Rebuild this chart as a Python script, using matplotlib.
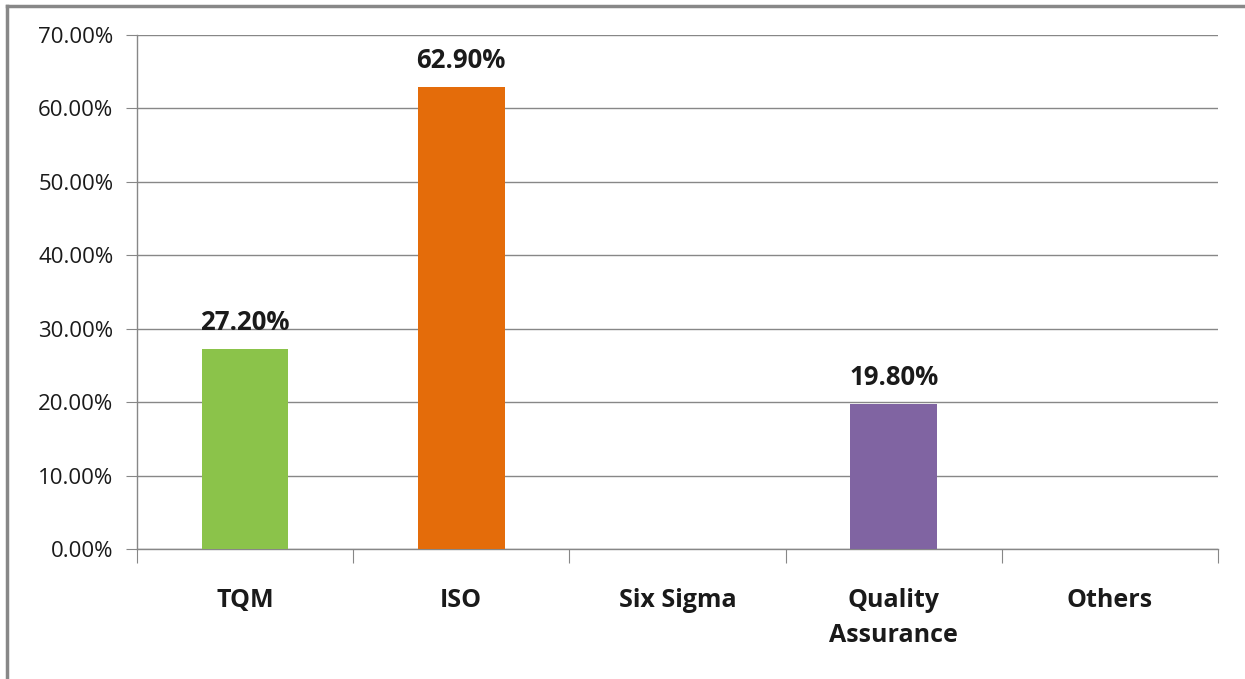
import matplotlib
matplotlib.use("Agg")
import matplotlib.pyplot as plt
from matplotlib.ticker import FuncFormatter, MultipleLocator
from matplotlib.lines import Line2D

categories = ["TQM", "ISO", "Six Sigma", "Quality\nAssurance", "Others"]
values = [27.2, 62.9, 0.0, 19.8, 0.0]
labels = ["27.20%", "62.90%", "", "19.80%", ""]
colors = ["#8BC34A", "#E46C0A", "#8064A2", "#8064A2", "#8064A2"]

plt.rcParams['font.family'] = ['Open Sans', 'DejaVu Sans']

fig = plt.figure(figsize=(12.45, 6.79), dpi=100)
ax = fig.add_axes([137/1245, 1-549/679, (1218-137)/1245, (549-35)/679])

x = list(range(len(categories)))
bars = ax.bar(x, values, width=0.40, color=colors, zorder=3)
for xi, v, lab in zip(x, values, labels):
    if lab:
        ax.text(xi, v + 3.6, lab, ha='center', va='center', fontsize=18.5, fontweight='bold', color='#1a1a1a')

ax.set_xlim(-0.5, len(categories) - 0.5)
ax.set_ylim(0, 70)
ax.yaxis.set_major_locator(MultipleLocator(10))
ax.yaxis.set_major_formatter(FuncFormatter(lambda v, p: f"{v:.2f}%"))
ax.grid(axis='y', color='#878787', linewidth=1.0, zorder=0)

gray = '#878787'
for s in ['top', 'right']:
    ax.spines[s].set_visible(False)
for s in ['left', 'bottom']:
    ax.spines[s].set_color(gray)
    ax.spines[s].set_linewidth(1.0)

ax.tick_params(axis='y', length=8, color=gray, labelsize=16, labelcolor='#1a1a1a', pad=9)
ax.set_xticks([i - 0.5 for i in range(len(categories) + 1)], minor=False)
ax.set_xticklabels([])
ax.tick_params(axis='x', which='major', length=10, color=gray, direction='out')
ax.set_xticks(x, minor=True)
ax.set_xticklabels(categories, minor=True, fontsize=18, fontweight='bold', color='#1a1a1a', linespacing=1.55)
ax.tick_params(axis='x', which='minor', length=0, pad=28)
for t in ax.get_xticklabels(minor=True):
    t.set_verticalalignment('top')

# outer frame
fig.add_artist(Line2D([7/1245, 7/1245], [0, 1-6/679], transform=fig.transFigure, color='#888888', linewidth=2.5))
fig.add_artist(Line2D([7/1245, 1], [1-6/679, 1-6/679], transform=fig.transFigure, color='#888888', linewidth=2.5))

fig.savefig("out.png", dpi=100)
